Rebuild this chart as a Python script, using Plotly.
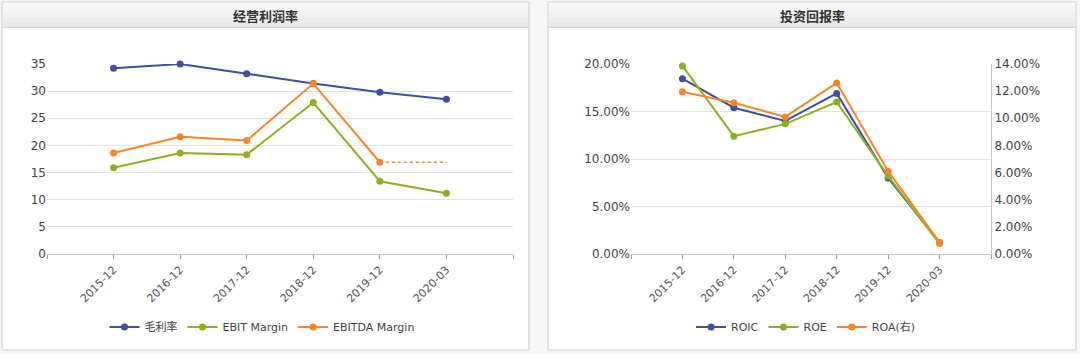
import plotly.graph_objects as go

W, H = 1080, 354

# ---------------- data ----------------
periods = ["2015-12", "2016-12", "2017-12", "2018-12", "2019-12", "2020-03"]

gross_margin = [34.2, 35.0, 33.2, 31.4, 29.8, 28.5]
ebit_margin = [15.9, 18.6, 18.3, 27.9, 13.4, 11.2]
ebitda_margin = [18.6, 21.6, 20.9, 31.4, 16.9, None]

roic_pct = [18.45, 15.4, 14.0, 16.9, 8.0, 1.2]
roe_pct = [19.8, 12.4, 13.7, 16.0, 8.2, 1.1]
roa_pct = [11.95, 11.15, 10.1, 12.6, 6.1, 0.85]

left_title = "经营利润率"
right_title = "投资回报率"
left_names = ["毛利率", "EBIT Margin", "EBITDA Margin"]
right_names = ["ROIC", "ROE", "ROA(右)"]

# ---------------- styles ----------------
BLUE = "#3d4f9e"
GREEN = "#8bb022"
ORANGE = "#f7862a"
FONT = "DejaVu Sans, Verdana, Noto Sans CJK SC, sans-serif"
CJK = "Noto Sans CJK SC, DejaVu Sans, sans-serif"

xs = [i + 1 for i in range(len(periods))]
tickvals = list(range(len(periods) + 2))
ticktext = [""] + periods + [""]


def px(x):
    return x / W


def py(y):
    return 1 - y / H


fig = go.Figure()

mk = dict(size=7)


def add_line(x, y, name, color, xa, ya, legend):
    fig.add_trace(go.Scatter(
        x=x, y=y, name=name, mode="lines+markers",
        line=dict(color=color, width=2), marker=dict(color=color, **mk),
        xaxis=xa, yaxis=ya, legend=legend, connectgaps=False,
        cliponaxis=False, hoverinfo="skip"))


# left chart
add_line(xs, gross_margin, left_names[0], BLUE, "x", "y", "legend")
add_line(xs, ebit_margin, left_names[1], GREEN, "x", "y", "legend")
add_line(xs, ebitda_margin, left_names[2], ORANGE, "x", "y", "legend")
# dotted continuation of the last EBITDA value
last_i = max(i for i, v in enumerate(ebitda_margin) if v is not None)
fig.add_trace(go.Scatter(
    x=[xs[last_i], xs[-1]], y=[ebitda_margin[last_i], ebitda_margin[last_i]],
    mode="lines", line=dict(color=ORANGE, width=1.5, dash="dot"),
    xaxis="x", yaxis="y", showlegend=False, hoverinfo="skip"))

# right chart
add_line(xs, [v / 100 for v in roic_pct], right_names[0], BLUE, "x2", "y2", "legend2")
add_line(xs, [v / 100 for v in roe_pct], right_names[1], GREEN, "x2", "y2", "legend2")
add_line(xs, [v / 100 for v in roa_pct], right_names[2], ORANGE, "x2", "y3", "legend2")

# ---------------- layout ----------------
ydom = [py(254), py(64)]
xcommon = dict(
    range=[0, 7], tickmode="array", tickvals=tickvals, ticktext=ticktext,
    ticks="outside", ticklen=4, tickcolor="#999999", showline=True,
    linecolor="#c8c8c8", linewidth=1, showgrid=False, zeroline=False,
    tickangle=-45, tickfont=dict(family=FONT, size=11, color="#555555"),
    fixedrange=True, automargin=False)
ycommon = dict(
    showline=False, zeroline=False, gridcolor="#e2e2e2", gridwidth=1,
    tickfont=dict(family=FONT, size=12, color="#444444"), ticks="",
    fixedrange=True, automargin=False)

fig.update_layout(
    width=W, height=H, margin=dict(l=0, r=0, t=0, b=0, autoexpand=False),
    paper_bgcolor="#f6f6f6", plot_bgcolor="#ffffff",
    xaxis=dict(domain=[px(47), px(513)], anchor="y", **xcommon),
    yaxis=dict(domain=ydom, range=[0, 35], dtick=5, anchor="x", **ycommon),
    xaxis2=dict(domain=[px(631), px(991)], anchor="y2", **xcommon),
    yaxis2=dict(domain=ydom, range=[0, 0.20], dtick=0.05, tickformat=".2%",
                anchor="x2", **ycommon),
    yaxis3=dict(range=[0, 0.14], dtick=0.02, tickformat=".2%", overlaying="y2",
                side="right", anchor="x2", showgrid=False, zeroline=False,
                showline=True, linecolor="#c8c8c8", linewidth=1,
                tickfont=dict(family=FONT, size=12, color="#444444"),
                fixedrange=True, automargin=False),
    legend=dict(orientation="h", x=px(262), xanchor="center", y=py(327),
                yanchor="middle", font=dict(family=FONT, size=11, color="#444444"),
                bgcolor="rgba(0,0,0,0)", itemwidth=30, tracegroupgap=0),
    legend2=dict(orientation="h", x=px(806), xanchor="center", y=py(327),
                 yanchor="middle", font=dict(family=FONT, size=11, color="#444444"),
                 bgcolor="rgba(0,0,0,0)", itemwidth=30, tracegroupgap=0),
    showlegend=True,
)

shapes = []
annotations = []
panels = [(2, 529, left_title), (548, 1076, right_title)]
for x0, x1, title in panels:
    # panel body
    shapes.append(dict(type="rect", xref="paper", yref="paper",
                       x0=px(x0), x1=px(x1), y0=py(350), y1=py(2),
                       fillcolor="#ffffff", line=dict(color="#dcdcdc", width=1),
                       layer="below"))
    # title bar gradient strips
    top, bot = 2, 27
    n = 12
    for k in range(n):
        t = k / (n - 1)
        c = int(round(250 - t * 20))
        ya = top + (bot - top) * k / n
        yb = top + (bot - top) * (k + 1) / n
        shapes.append(dict(type="rect", xref="paper", yref="paper",
                           x0=px(x0 + 1), x1=px(x1 - 1), y0=py(yb), y1=py(ya),
                           fillcolor=f"rgb({c},{c},{c})", line=dict(width=0),
                           layer="below"))
    shapes.append(dict(type="line", xref="paper", yref="paper",
                       x0=px(x0), x1=px(x1), y0=py(27.5), y1=py(27.5),
                       line=dict(color="#d6d6d6", width=1), layer="below"))
    shapes.append(dict(type="rect", xref="paper", yref="paper",
                       x0=px(x0), x1=px(x1), y0=py(350), y1=py(2),
                       fillcolor="rgba(0,0,0,0)", line=dict(color="#dcdcdc", width=1),
                       layer="below"))
    annotations.append(dict(text=f"<b>{title}</b>", xref="paper", yref="paper",
                            x=px((x0 + x1) / 2), y=py(15), xanchor="center",
                            yanchor="middle", showarrow=False,
                            font=dict(family=CJK, size=13, color="#333333")))

fig.update_layout(shapes=shapes, annotations=annotations)

fig.write_html("out.html")
